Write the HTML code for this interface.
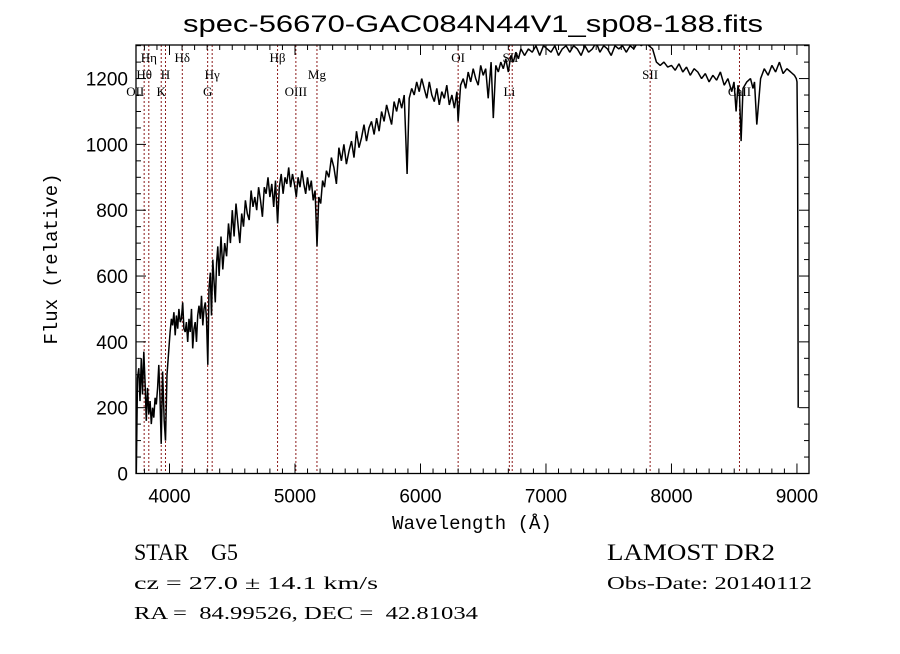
<!DOCTYPE html>
<html><head><meta charset="utf-8"><style>
body{margin:0;background:#fff;}
svg text{font-family:"Liberation Serif",serif;white-space:pre;}
</style></head><body>
<svg id="chart" width="900" height="649" viewBox="0 0 900 649" xmlns="http://www.w3.org/2000/svg">
<rect width="900" height="649" fill="#fff"/>
<text x="473" y="32" text-anchor="middle" font-size="24" textLength="580" lengthAdjust="spacingAndGlyphs" style="font-family:'Liberation Sans',sans-serif">spec-56670-GAC084N44V1_sp08-188.fits</text>
<g id="lines"></g>
<g id="axes"></g>
<g id="series"></g>
<text x="472" y="529" text-anchor="middle" font-size="19" style="font-family:'Liberation Mono',monospace">Wavelength (Å)</text>
<text transform="translate(57,259) rotate(-90)" text-anchor="middle" font-size="19" style="font-family:'Liberation Mono',monospace">Flux (relative)</text>
<text x="134" y="560" font-size="23" textLength="104" lengthAdjust="spacingAndGlyphs">STAR    G5</text>
<text x="134" y="589" font-size="18" textLength="244" lengthAdjust="spacingAndGlyphs">cz = 27.0 ± 14.1 km/s</text>
<text x="134" y="619" font-size="18" textLength="344" lengthAdjust="spacingAndGlyphs">RA =  84.99526, DEC =  42.81034</text>
<text x="607" y="560" font-size="23" textLength="168" lengthAdjust="spacingAndGlyphs">LAMOST DR2</text>
<text x="607" y="589" font-size="18" textLength="205" lengthAdjust="spacingAndGlyphs">Obs-Date: 20140112</text>
</svg>
<script>
const wave=[3735,3745,3755,3765,3775,3785,3795,3805,3815,3825,3835,3845,3855,3865,3875,3885,3895,3905,3915,3925,3934,3945,3958,3968,3980,3995,4005,4015,4025,4035,4045,4055,4065,4075,4085,4095,4105,4115,4125,4135,4145,4155,4165,4175,4185,4195,4205,4215,4225,4235,4245,4255,4265,4275,4285,4295,4305,4315,4325,4335,4345,4355,4365,4375,4385,4395,4410,4425,4440,4455,4470,4485,4500,4515,4530,4545,4560,4575,4590,4605,4620,4635,4650,4665,4680,4695,4710,4725,4740,4755,4770,4785,4800,4815,4830,4845,4861,4875,4890,4905,4920,4935,4950,4965,4980,4995,5010,5025,5040,5055,5070,5085,5100,5115,5130,5145,5160,5175,5190,5205,5220,5235,5250,5270,5290,5310,5330,5350,5370,5390,5410,5430,5450,5470,5490,5510,5530,5550,5570,5590,5610,5630,5650,5670,5690,5710,5730,5750,5770,5790,5810,5830,5850,5870,5893,5910,5930,5950,5970,5990,6010,6030,6050,6070,6090,6110,6130,6150,6170,6190,6210,6230,6250,6270,6290,6300,6320,6340,6360,6380,6400,6420,6440,6460,6480,6500,6520,6540,6563,6580,6600,6620,6640,6660,6680,6700,6720,6740,6760,6780,6800,6830,6860,6890,6920,6950,6980,7010,7040,7070,7100,7130,7160,7190,7220,7250,7280,7310,7340,7370,7400,7430,7460,7490,7520,7550,7580,7610,7640,7670,7700,7730,7760,7790,7820,7850,7880,7910,7940,7970,8000,8030,8060,8090,8120,8150,8180,8210,8240,8270,8300,8330,8360,8390,8420,8450,8480,8498,8515,8530,8542,8555,8570,8600,8630,8650,8662,8680,8710,8740,8770,8800,8830,8860,8890,8920,8950,8980,8995,9000,9005,9010];
const flux=[0,290,320,220,350,240,370,280,160,260,180,220,150,200,170,230,210,260,330,220,90,310,160,100,300,380,430,470,450,490,420,480,440,500,460,470,520,440,430,460,400,470,430,500,380,440,460,400,480,510,470,540,450,500,520,470,330,560,610,480,650,580,520,640,690,600,720,620,700,660,760,700,800,720,820,760,700,790,750,830,790,770,860,810,840,800,870,830,780,870,850,900,840,880,810,890,760,870,910,850,900,880,930,870,910,880,840,900,870,920,880,850,900,860,890,830,860,690,840,820,890,870,920,900,960,930,880,990,950,1000,940,980,1010,960,1040,990,1020,1060,1010,1050,1070,1030,1080,1040,1100,1070,1120,1090,1060,1130,1100,1140,1110,1150,910,1140,1170,1150,1190,1160,1200,1170,1140,1190,1150,1130,1170,1120,1160,1140,1180,1120,1150,1110,1160,1070,1180,1200,1170,1220,1190,1230,1200,1180,1240,1210,1230,1140,1250,1080,1240,1220,1250,1230,1260,1220,1270,1250,1280,1260,1290,1270,
1290,1280,1300,1270,1300,1290,1280,1300,1270,1290,1300,1280,1300,1290,1270,1300,1280,1290,1310,1280,1300,1290,1270,1300,1290,1300,1280,1300,1290,1310,1300,1310,1300,
1290,1250,1240,1250,1235,1240,1225,1245,1220,1235,1210,1230,1220,1200,1215,1190,1210,1195,1220,1180,1200,1160,1190,1100,1180,1150,1010,1170,1190,1200,1170,1190,1060,1200,1230,1210,1240,1220,1250,1215,1230,1220,1210,1200,1190,1000,200];
const xTicks=[4000,5000,6000,7000,8000,9000];
const yTicks=[0,200,400,600,800,1000,1200];
const lineWaves=[3798,3835,3934,3968,4102,4304,4340,4861,5007,5175,6300,6708,6731,7830,8542];
const labels=[["OII",3727,91],["Hθ",3798,74],["Hη",3835,57],["K",3934,91],["H",3968,74],["Hδ",4102,57],["G",4304,91],["Hγ",4340,74],["Hβ",4861,57],["OIII",5007,91],["Mg",5175,74],["OI",6300,57],["SII",6717,57],["Li",6708,91],["SII",7830,74],["CaII",8542,91]];
const X0=136,X1=809,Y0=45,Y1=473.5,WMIN=3733,WMAX=9096,FMAX=1302;
const sx=w=>X0+(w-WMIN)/(WMAX-WMIN)*(X1-X0);
const sy=f=>Y1-f/FMAX*(Y1-Y0);
const NS="http://www.w3.org/2000/svg";
function mk(t,a,p){const e=document.createElementNS(NS,t);for(const k in a)e.setAttribute(k,a[k]);p.appendChild(e);return e;}
const ax=document.getElementById('axes'),ln=document.getElementById('lines'),se=document.getElementById('series');
const frame=mk('rect',{x:X0,y:Y0,width:X1-X0,height:Y1-Y0,fill:'none',stroke:'#000','stroke-width':1.3},ax);


for(let w=3800;w<=9000;w+=100){const x=sx(w);const L=(w%1000===0)?10:5;
 mk('line',{x1:x,x2:x,y1:Y1,y2:Y1-L,stroke:'#000'},ax);mk('line',{x1:x,x2:x,y1:Y0,y2:Y0+L,stroke:'#000'},ax);}
for(let f=0;f<=1300;f+=50){const y=sy(f);const L=(f%200===0)?10:5;
 mk('line',{x1:X0,x2:X0+L,y1:y,y2:y,stroke:'#000'},ax);mk('line',{x1:X1,x2:X1-L,y1:y,y2:y,stroke:'#000'},ax);}
xTicks.forEach(w=>{const t=mk('text',{x:sx(w),y:Y1+29,'text-anchor':'middle','font-size':19,style:"font-family:'Liberation Sans',sans-serif"},ax);t.textContent=w;
 
 });
yTicks.forEach(f=>{const t=mk('text',{x:X0-8,y:sy(f)+7,'text-anchor':'end','font-size':19,style:"font-family:'Liberation Sans',sans-serif"},ax);t.textContent=f;
 
 });
lineWaves.forEach(w=>{const l=mk('line',{x1:sx(w),x2:sx(w),y1:Y0,y2:Y1,stroke:'#8b1a1a','stroke-width':1,'stroke-dasharray':'2,2'},ln);
 
 });
labels.forEach(([s,w,y])=>{const t=mk('text',{x:sx(w),y:y+5,'text-anchor':'middle','font-size':13},ln);t.textContent=s;
 
 });
const cp=mk('clipPath',{id:'cp'},se);
mk('rect',{x:X0,y:Y0,width:X1-X0,height:Y1-Y0},cp);
const n=Math.min(wave.length,flux.length);
let d='';for(let i=0;i<n;i++){d+=(i?'L':'M')+sx(wave[i]).toFixed(1)+','+sy(flux[i]).toFixed(1);}
const p=mk('path',{d:d,fill:'none',stroke:'#000','stroke-width':1.5,'stroke-linejoin':'bevel','clip-path':'url(#cp)'},se);


</script>
</body></html>
